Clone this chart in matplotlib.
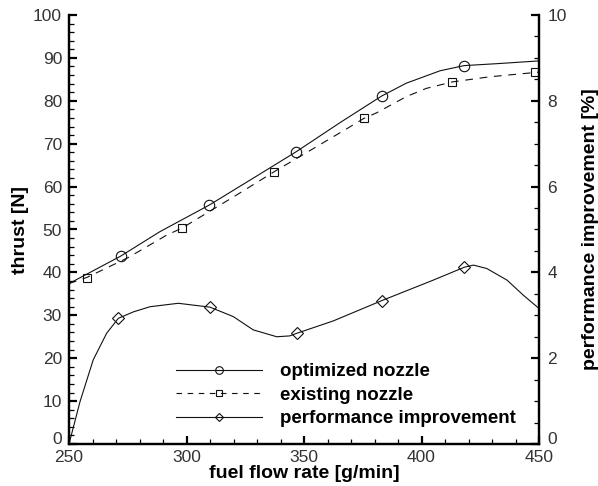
import matplotlib.pyplot as plt
from matplotlib.lines import Line2D
from matplotlib.ticker import MultipleLocator
from matplotlib.transforms import ScaledTranslation

plt.rcParams['font.family'] = ['Liberation Sans', 'DejaVu Sans']

# thrust, optimized nozzle
opt_x = [250, 260, 272, 288.7, 309.7, 327, 346.6, 365.3, 383, 393.5, 407.9, 418.1, 433.4, 450]
opt_y = [37.4, 40.3, 43.8, 49.5, 55.7, 61.5, 68.1, 74.9, 81.1, 84.1, 87.0, 88.2, 88.7, 89.3]
opt_marks = [2, 4, 6, 8, 11]

# thrust, existing nozzle
exist_x = [250, 257.5, 275, 291.6, 298, 320, 337.4, 355, 371, 375.5, 380.9, 393.6, 402.1, 413.1, 429.1, 448.3, 450]
exist_y = [37.4, 38.8, 43.4, 48.7, 50.3, 57.6, 63.5, 69.2, 74.4, 75.9, 77.2, 81.0, 82.9, 84.4, 85.6, 86.6, 86.7]
exist_marks = [1, 4, 6, 9, 13, 15]

# performance improvement in %
perf_x = [250, 254.7, 260.3, 266, 271, 277.4, 284.5, 296.5, 310, 319.9, 328.4, 338.4, 344, 346.9,
          362.5, 383, 405, 418.2, 422.1, 427.8, 436.4, 443.3, 450]
perf_y = [0, 0.99, 1.96, 2.58, 2.93, 3.08, 3.20, 3.28, 3.19, 2.97, 2.66, 2.50, 2.52, 2.58,
          2.87, 3.34, 3.82, 4.12, 4.17, 4.09, 3.82, 3.47, 3.16]
perf_marks = [4, 8, 13, 15, 17]

fig = plt.figure(figsize=(5.98, 4.86), dpi=100)
ax = fig.add_axes([69/598, 42/486, 470/598, 429/486])
ax2 = ax.twinx()

lc = '#111111'
ax.plot(opt_x, opt_y, color=lc, lw=0.8, marker='o', ms=7.5, mfc='none', mec=lc, mew=0.8,
        markevery=opt_marks)
ax.plot(exist_x, exist_y, color=lc, lw=0.8, ls=(0, (7, 6)), marker='s', ms=5.5, mfc='none',
        mec=lc, mew=0.8, markevery=exist_marks)
ax2.plot(perf_x, perf_y, color=lc, lw=0.8, marker='D', ms=6, mfc='none', mec=lc, mew=0.8,
         markevery=perf_marks)

ax.set_xlim(250, 450)
ax.set_ylim(0, 100)
ax2.set_ylim(0, 10)
ax.xaxis.set_major_locator(MultipleLocator(50))
ax.xaxis.set_minor_locator(MultipleLocator(10))
ax.yaxis.set_major_locator(MultipleLocator(10))
ax.yaxis.set_minor_locator(MultipleLocator(2))
ax2.yaxis.set_major_locator(MultipleLocator(2))
ax2.yaxis.set_minor_locator(MultipleLocator(0.5))

for a in (ax, ax2):
    a.spines['top'].set_visible(False)
    for s in a.spines.values():
        s.set_linewidth(1.6)
    a.tick_params(which='major', direction='in', length=6, width=1.6, labelsize=12.5,
                  labelcolor='#333333')
    a.tick_params(which='minor', direction='in', length=3.6, width=0.9)
ax.tick_params(axis='y', pad=5)
ax.tick_params(axis='x', pad=4.5)
ax2.tick_params(axis='y', pad=6)

ax.set_xlabel('fuel flow rate [g/min]', fontsize=14, fontweight='bold', labelpad=0)
ax.set_ylabel('thrust [N]', fontsize=14, fontweight='bold', labelpad=3)
ax2.set_ylabel('performance improvement [%]', fontsize=14, fontweight='bold', labelpad=11)

handles = [
    Line2D([], [], color=lc, lw=0.8, marker='o', ms=5.5, mfc='none', mec=lc, mew=0.8),
    Line2D([], [], color=lc, lw=0.8, ls=(0, (5, 5)), marker='s', ms=4, mfc='none', mec=lc, mew=0.8),
    Line2D([], [], color=lc, lw=0.8, marker='D', ms=4.5, mfc='none', mec=lc, mew=0.8),
]
labels = ['optimized nozzle', 'existing nozzle', 'performance improvement']
ax2.legend(handles, labels, loc='upper left', bbox_to_anchor=(0.2277, 0.188), frameon=False,
           borderpad=0, borderaxespad=0, handlelength=4.6, handletextpad=0.95, labelspacing=0.34,
           prop={'weight': 'bold', 'size': 13.5}, numpoints=1)

# lift the two "0" labels a little so they sit just above the x tick labels
fig.canvas.draw()
shift = ScaledTranslation(0, 4/72, fig.dpi_scale_trans)
for t in ax.yaxis.get_major_ticks():
    if abs(t.get_loc()) < 1e-9:
        t.label1.set_transform(t.label1.get_transform() + shift)
for t in ax2.yaxis.get_major_ticks():
    if abs(t.get_loc()) < 1e-9:
        t.label2.set_transform(t.label2.get_transform() + shift)

fig.savefig('out.png', dpi=100)
